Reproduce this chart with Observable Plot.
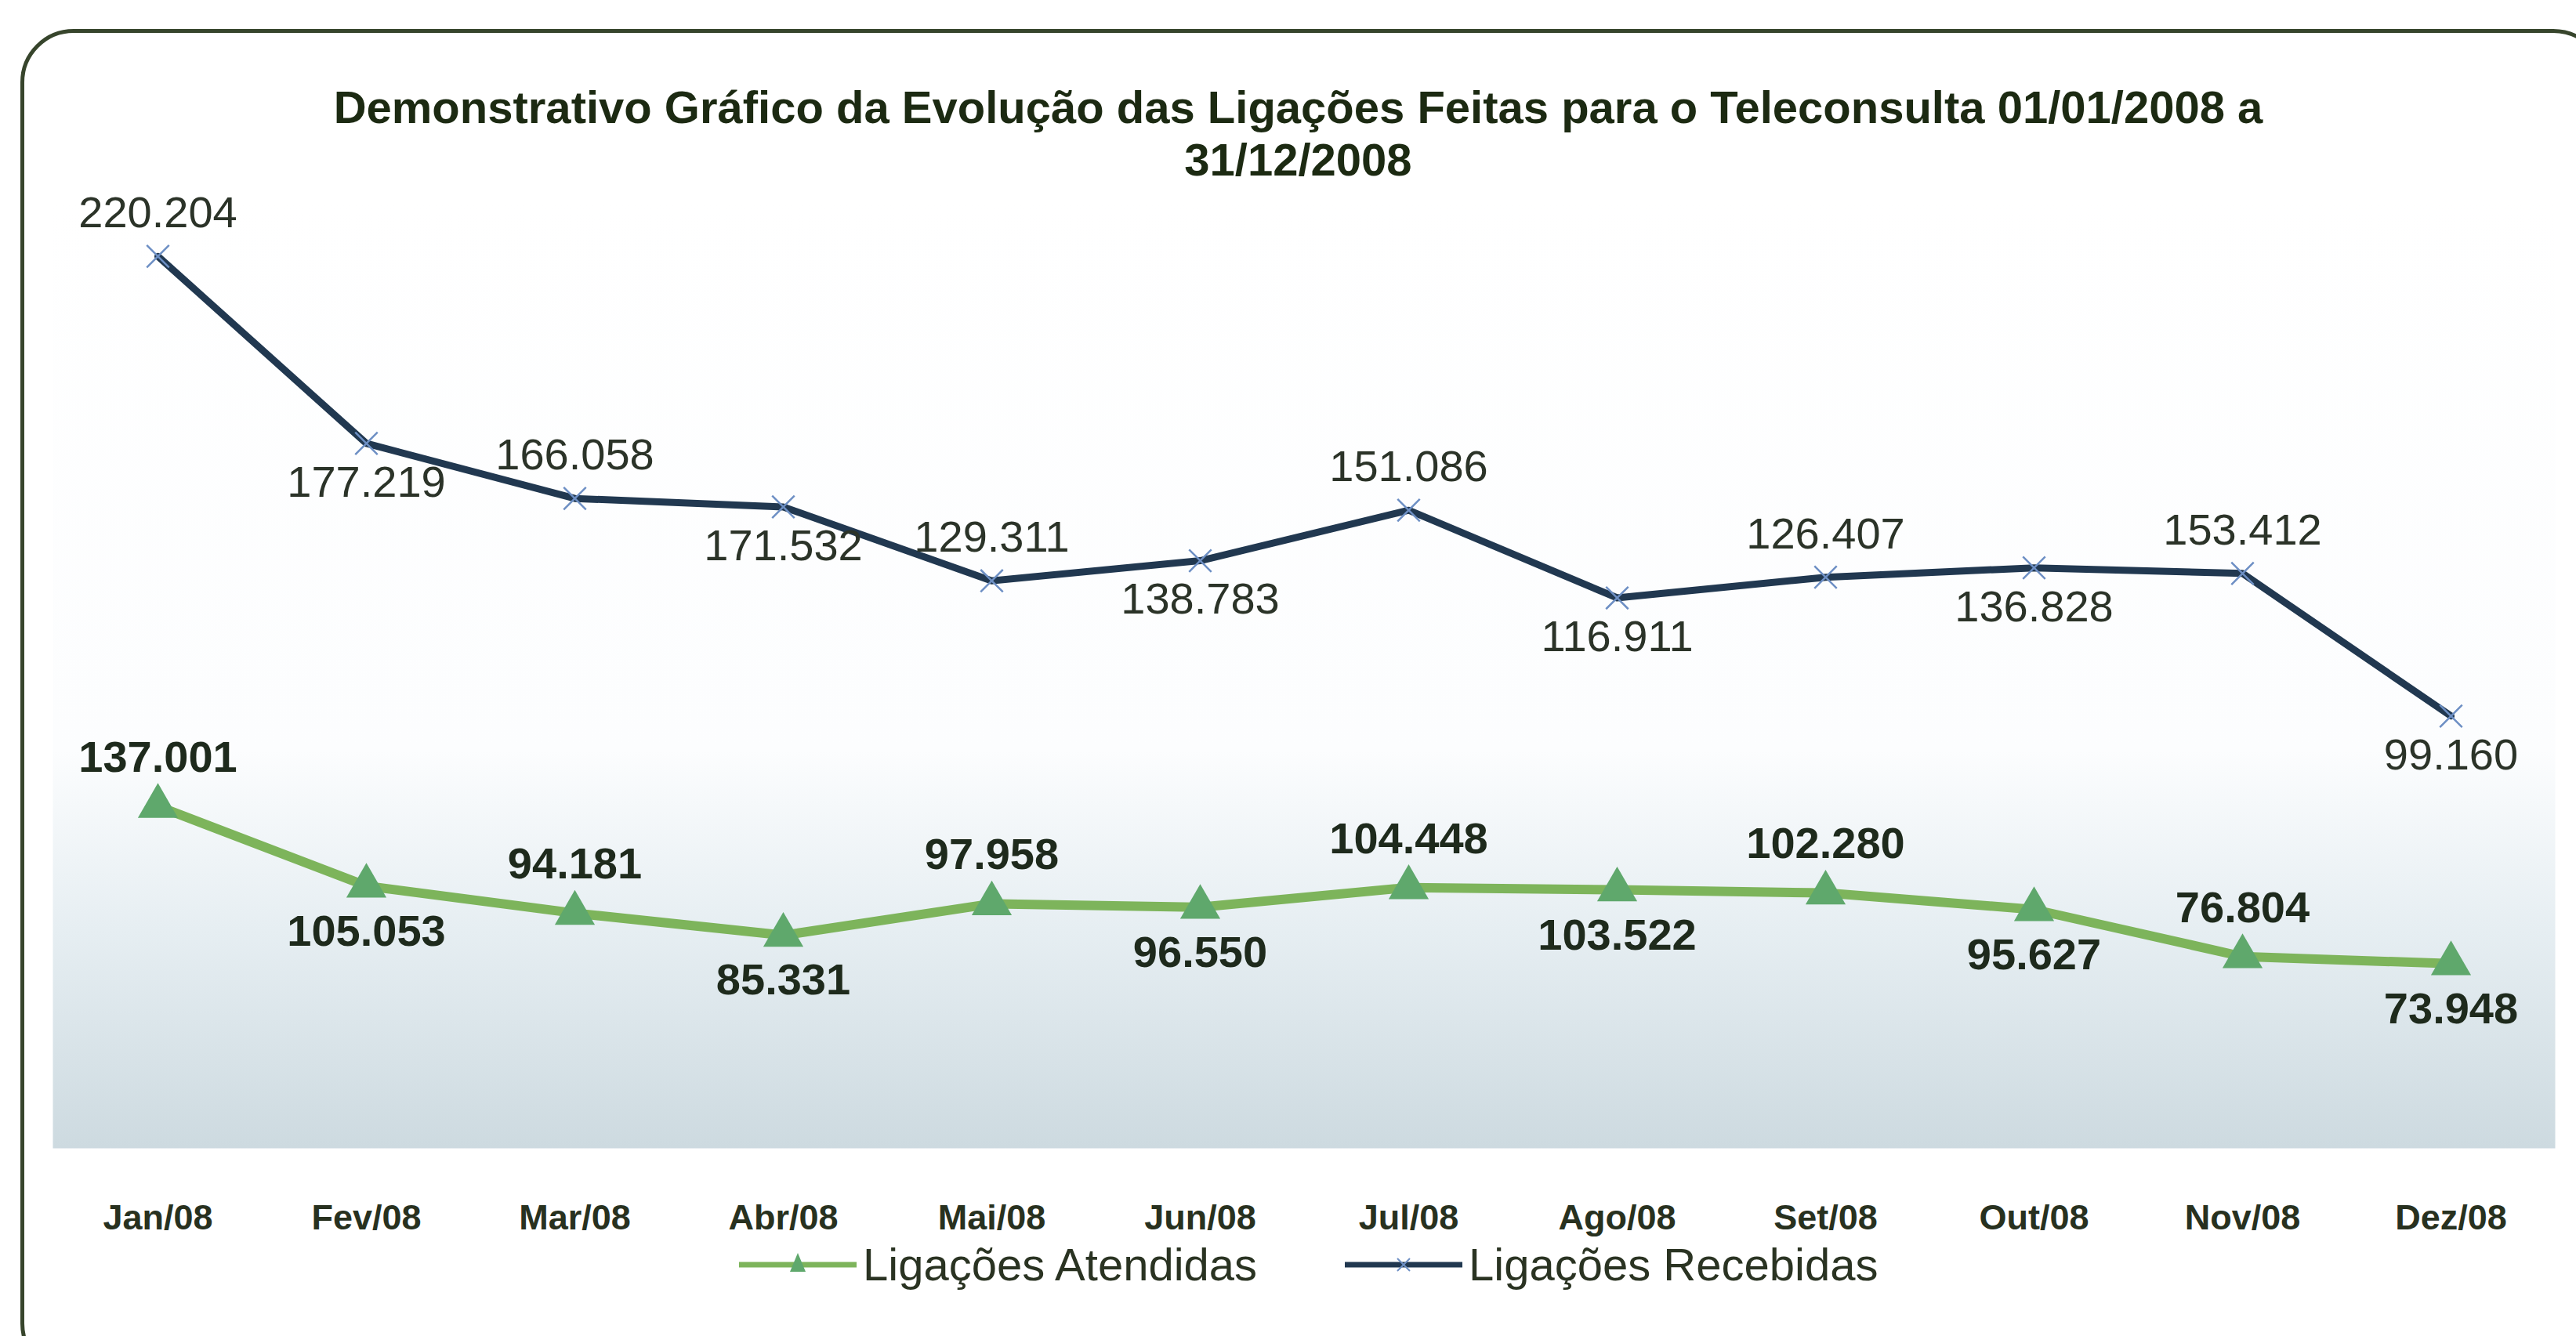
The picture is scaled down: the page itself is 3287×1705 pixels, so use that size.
<!DOCTYPE html>
<html>
<head>
<meta charset="utf-8">
<script src="https://cdn.jsdelivr.net/npm/d3@7"></script>
<script src="https://cdn.jsdelivr.net/npm/@observablehq/plot@0.6"></script>
<style>
  body { margin: 0; background: #ffffff; font-family: "Liberation Sans", Arial, sans-serif; }
  #page { position: relative; width: 3287px; height: 1705px; overflow: hidden; background: #fff; }
  #frame { position: absolute; left: 26px; top: 37px; width: 3300px; height: 1720px; border: 5px solid #37452c;
           border-radius: 68px; box-sizing: border-box; pointer-events: none; z-index: 2; }
  #title { height: 230px; box-sizing: border-box; padding-top: 103px; padding-left: 26px; text-align: center;
           font-weight: bold; font-size: 58px; line-height: 67px; color: #1c2a12; overflow: visible; white-space: nowrap; }
  #chart svg { display: block; }
  #legend { height: 120px; display: flex; align-items: flex-start; padding-left: 943px; font-size: 58px;
            line-height: 58px; color: #2a3322; }
  #legend .item { display: flex; align-items: center; }
  #legend svg { display: block; margin-right: 8px; }
</style>
</head>
<body>
<div id="page">
  <div id="frame"></div>
  <div id="title">Demonstrativo Gráfico da Evolução das Ligações Feitas para o Teleconsulta 01/01/2008 a<br>31/12/2008</div>
  <div id="chart"></div>
  <div id="legend"></div>
</div>
<script>
// ---- data ----
const months = ["Jan/08", "Fev/08", "Mar/08", "Abr/08", "Mai/08", "Jun/08", "Jul/08", "Ago/08", "Set/08", "Out/08", "Nov/08", "Dez/08"];
const atendidas = [137001, 105053, 94181, 85331, 97958, 96550, 104448, 103522, 102280, 95627, 76804, 73948];
const recebidas = [220204, 177219, 166058, 171532, 129311, 138783, 151086, 116911, 126407, 136828, 153412, 99160];
const series = ["Ligações Atendidas", "Ligações Recebidas"];

// ---- table (Excel stacked-line chart: Recebidas stacked on Atendidas) ----
const rows = [];
months.forEach((m, i) => rows.push({month: m, i, serie: series[0], value: atendidas[i]}));
months.forEach((m, i) => rows.push({month: m, i, serie: series[1], value: recebidas[i]}));

const fmt = d3.formatLocale({decimal: ",", thousands: ".", grouping: [3], currency: ["", ""]}).format(",d");
const st = (o) => Plot.stackY2({x: "month", y: "value", z: "serie", ...o});
const only = (S, o) => Plot.filter(d => d.serie === S, st(o));
const lab = (S, parity, dy, weight, fill) =>
  Plot.text(rows, Plot.filter(d => d.serie === S && d.i % 2 === parity,
    st({text: d => fmt(d.value), dy, fontSize: 56, fontWeight: weight, fill})));

const GREEN = "#7db45b", TRI = "#5fa86c", NAVY = "#213850", XMARK = "#6d8fc4";

const chart = Plot.plot({
  width: 3287,
  height: 1355,
  marginLeft: 67,
  marginRight: 27,
  marginTop: 24,
  marginBottom: 120,
  style: {fontFamily: "Liberation Sans, Arial, sans-serif", background: "transparent", overflow: "visible"},
  x: {type: "point", domain: months, padding: 0.5, label: null},
  y: {domain: [0, 380000], axis: null},
  marks: [
    Plot.frame({fill: "url(#bgGrad)", stroke: "none"}),
    Plot.axisX({tickSize: 0, tickPadding: 72, fontSize: 45, fontWeight: "bold", color: "#28311f", label: null}),
    Plot.lineY(rows, only(series[0], {stroke: GREEN, strokeWidth: 12, strokeLinejoin: "round"})),
    Plot.lineY(rows, only(series[1], {stroke: NAVY, strokeWidth: 9, strokeLinejoin: "round"})),
    Plot.dot(rows, only(series[0], {symbol: "triangle", r: 19, fill: TRI, stroke: "none"})),
    Plot.dot(rows, only(series[1], {symbol: "times", r: 13, stroke: XMARK, strokeWidth: 2.5})),
    lab(series[1], 0, -55, "normal", "#2b3328"),
    lab(series[1], 1, 50, "normal", "#2b3328"),
    lab(series[0], 0, -62, "bold", "#1e2a1c"),
    lab(series[0], 1, 58, "bold", "#1e2a1c")
  ]
});

d3.select(chart).insert("defs", ":first-child").html(`
  <linearGradient id="bgGrad" x1="0" y1="0" x2="0" y2="1">
    <stop offset="0" stop-color="#ffffff"/>
    <stop offset="0.58" stop-color="#fcfdfe"/>
    <stop offset="0.77" stop-color="#e6eef2"/>
    <stop offset="1" stop-color="#cddae0"/>
  </linearGradient>`);
document.getElementById("chart").appendChild(chart);

// ---- legend ----
const legend = d3.select("#legend");
const it1 = legend.append("div").attr("class", "item");
const s1 = it1.append("svg").attr("width", 150).attr("height", 58);
s1.append("line").attr("x1", 0).attr("x2", 150).attr("y1", 29).attr("y2", 29).attr("stroke", GREEN).attr("stroke-width", 7);
s1.append("path").attr("d", "M75,14 L85,38 L65,38 Z").attr("fill", TRI);
it1.append("span").text(series[0]);
const it2 = legend.append("div").attr("class", "item").style("margin-left", "112px");
const s2 = it2.append("svg").attr("width", 150).attr("height", 58);
s2.append("line").attr("x1", 0).attr("x2", 150).attr("y1", 29).attr("y2", 29).attr("stroke", NAVY).attr("stroke-width", 7);
s2.append("path").attr("d", "M67,21 L83,37 M83,21 L67,37").attr("stroke", XMARK).attr("stroke-width", 2);
it2.append("span").text(series[1]);
</script>
</body>
</html>
